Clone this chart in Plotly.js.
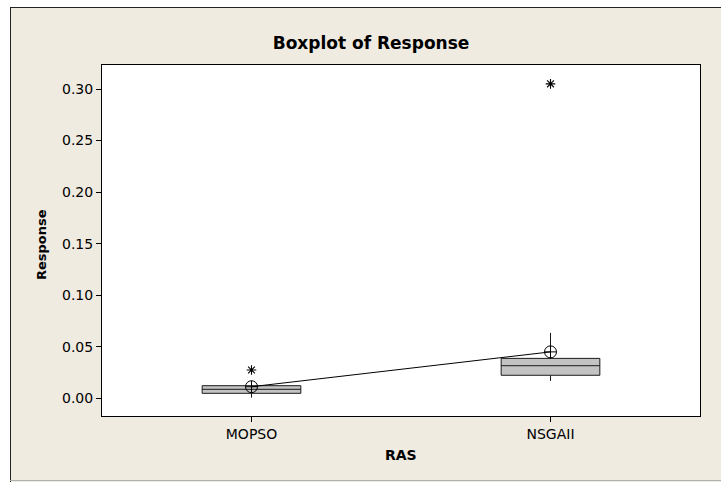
<!DOCTYPE html>
<html>
<head>
<meta charset="utf-8">
<script src="https://cdn.plot.ly/plotly-3.0.1.min.js"></script>
<style>html,body{margin:0;padding:0;background:#fff;}#chart{width:721px;height:482px;}</style>
</head>
<body>
<div id="chart"></div>
<script>
// ---- data ----
const categories = ['MOPSO', 'NSGAII'];
const q1Values = [0.0048, 0.0223];
const medianValues = [0.0087, 0.0316];
const q3Values = [0.0122, 0.0387];
const lowerWhisker = [0.0006, 0.0168];
const upperWhisker = [0.0150, 0.0634];
const meanValues = [0.0112, 0.0450];
const outlierCategories = ['MOPSO', 'NSGAII'];
const outlierValues = [0.0274, 0.3050];
const yTickValues = [0.00, 0.05, 0.10, 0.15, 0.20, 0.25, 0.30];
const chartTitle = 'Boxplot of Response';
const xTitle = 'RAS';
const yTitle = 'Response';

const FONT = 'DejaVu Sans, Verdana, sans-serif';

// plot-area geometry in pixels
const L = 102, R = 700, T = 65, B = 416, W = 721, H = 482;
const px2x = p => (p - L) / (R - L);
const py2y = p => (B - p) / (B - T);

const boxTrace = {
  type: 'box',
  x: categories,
  q1: q1Values,
  median: medianValues,
  q3: q3Values,
  lowerfence: lowerWhisker,
  upperfence: upperWhisker,
  width: 0.33,
  whiskerwidth: 0,
  fillcolor: '#c3c3c3',
  line: {color: '#1a1a1a', width: 1},
  boxpoints: false,
  hoverinfo: 'skip',
  showlegend: false
};

const meanTrace = {
  type: 'scatter',
  mode: 'lines+markers',
  x: categories,
  y: meanValues,
  line: {color: '#000', width: 1},
  marker: {symbol: 'circle-cross-open', size: 12, color: '#000', line: {width: 1, color: '#000'}},
  showlegend: false,
  hoverinfo: 'skip'
};

const outlierTrace = {
  type: 'scatter',
  mode: 'markers',
  x: outlierCategories,
  y: outlierValues,
  marker: {symbol: 'asterisk-open', size: 8, color: '#000', line: {width: 1.1, color: '#000'}},
  showlegend: false,
  hoverinfo: 'skip'
};

const layout = {
  width: W,
  height: H,
  margin: {l: L, r: W - R, t: T, b: H - B, pad: 0},
  paper_bgcolor: '#efebe1',
  plot_bgcolor: '#ffffff',
  font: {family: FONT, size: 14, color: '#000'},
  title: {
    text: '<b>' + chartTitle + '</b>',
    font: {family: FONT, size: 17, color: '#000'},
    x: 371 / W, xref: 'container', xanchor: 'center',
    y: 1 - 43 / H, yref: 'container', yanchor: 'middle'
  },
  xaxis: {
    type: 'category',
    range: [-0.5, 1.5],
    showline: true, mirror: true, linecolor: '#000', linewidth: 1,
    ticks: 'outside', ticklen: 5, tickcolor: '#000', tickwidth: 1,
    showgrid: false, zeroline: false,
    tickfont: {family: FONT, size: 14, color: '#000'},
    automargin: false
  },
  yaxis: {
    range: [-0.0172, 0.3233],
    tickvals: yTickValues,
    tickformat: '.2f',
    showline: true, mirror: true, linecolor: '#000', linewidth: 1,
    ticks: 'outside', ticklen: 5, tickcolor: '#000', tickwidth: 1,
    showgrid: false, zeroline: false,
    tickfont: {family: FONT, size: 14, color: '#000'},
    automargin: false
  },
  annotations: [
    {text: '<b>' + xTitle + '</b>', xref: 'paper', yref: 'paper', x: px2x(401), y: py2y(455),
     xanchor: 'center', yanchor: 'middle', showarrow: false,
     font: {family: FONT, size: 14, color: '#000'}},
    {text: '<b>' + yTitle + '</b>', xref: 'paper', yref: 'paper', x: px2x(42), y: py2y(245),
     xanchor: 'center', yanchor: 'middle', showarrow: false, textangle: -90,
     font: {family: FONT, size: 13, color: '#000'}}
  ],
  shapes: [
    {type: 'rect', xref: 'paper', yref: 'paper', layer: 'below',
     x0: -0.3, x1: px2x(10), y0: -0.3, y1: 1.3,
     fillcolor: '#ffffff', line: {width: 0}},
    {type: 'rect', xref: 'paper', yref: 'paper', layer: 'below',
     x0: -0.3, x1: 1.3, y0: py2y(7), y1: 1.3,
     fillcolor: '#ffffff', line: {width: 0}},
    {type: 'line', xref: 'paper', yref: 'paper', layer: 'below',
     x0: px2x(10.5), x1: px2x(10.5), y0: py2y(7), y1: py2y(482),
     line: {color: '#222', width: 1}},
    {type: 'line', xref: 'paper', yref: 'paper', layer: 'below',
     x0: px2x(10), x1: px2x(721), y0: py2y(7.5), y1: py2y(7.5),
     line: {color: '#222', width: 1}},
    {type: 'line', xref: 'paper', yref: 'paper', layer: 'below',
     x0: px2x(10), x1: px2x(721), y0: py2y(480.5), y1: py2y(480.5),
     line: {color: '#b0b0b0', width: 1}}
  ]
};

Plotly.newPlot('chart', [boxTrace, meanTrace, outlierTrace], layout, {displayModeBar: false, staticPlot: true});
</script>
</body>
</html>
